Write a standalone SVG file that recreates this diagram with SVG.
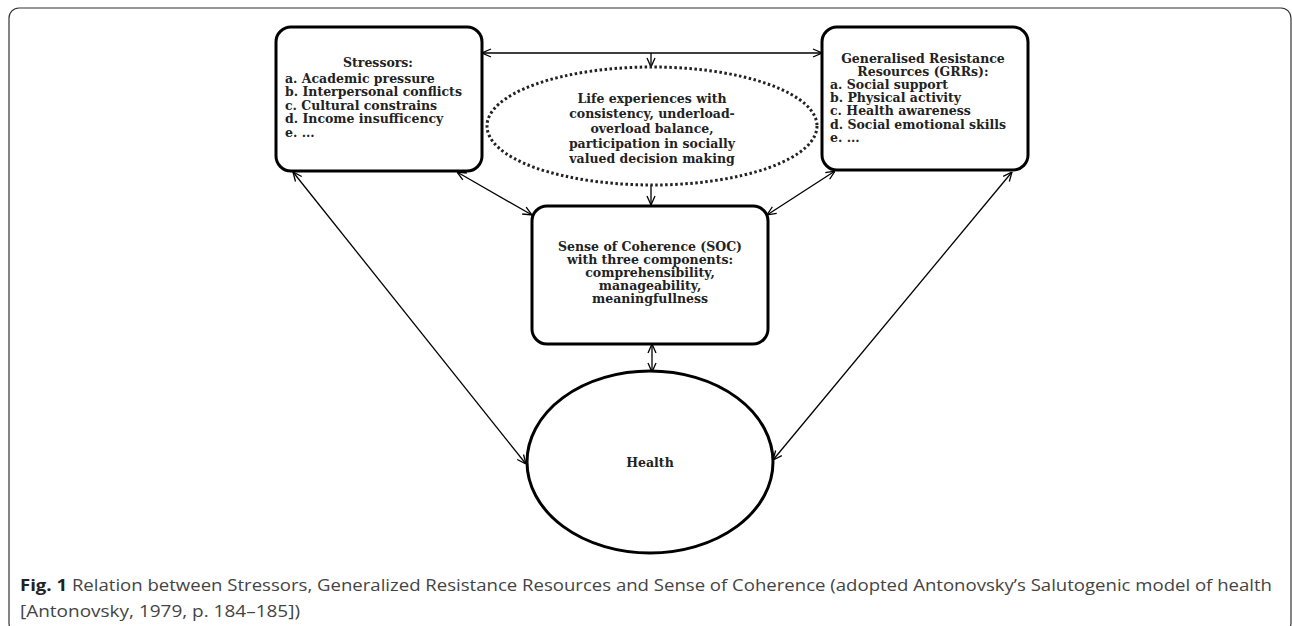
<svg xmlns="http://www.w3.org/2000/svg" width="1292" height="626" viewBox="0 0 1292 626">
<style>
.box{fill:#fff;stroke:#000;stroke-width:3}
.t{font-family:"DejaVu Serif","Liberation Serif",serif;font-weight:bold;font-size:12.5px;fill:#222}
.c{text-anchor:middle}
.con{stroke:#000;stroke-width:1.3;fill:none}
.cap{font-family:"Open Sans","Liberation Sans",sans-serif;font-size:16px;fill:#444}
</style>
<defs>
<marker id="ah" viewBox="0 0 10 10" refX="10" refY="5" markerWidth="10" markerHeight="10" markerUnits="userSpaceOnUse" orient="auto-start-reverse">
<path d="M1,1 L10,5 L1,9" fill="none" stroke="#000" stroke-width="1.3"/>
</marker>
</defs>
<rect x="9" y="8" width="1282" height="625" rx="10" fill="none" stroke="#333" stroke-width="1.2"/>
<g id="connectors">
<line class="con" x1="482" y1="53" x2="822" y2="53" marker-start="url(#ah)" marker-end="url(#ah)"/>
<line class="con" x1="651" y1="53" x2="651" y2="67" marker-end="url(#ah)"/>
<line class="con" x1="651" y1="185" x2="651" y2="205" marker-end="url(#ah)"/>
<line class="con" x1="652" y1="344" x2="652" y2="372" marker-start="url(#ah)" marker-end="url(#ah)"/>
<line class="con" x1="293" y1="172" x2="526" y2="464" marker-start="url(#ah)" marker-end="url(#ah)"/>
<line class="con" x1="457" y1="172" x2="532" y2="215" marker-start="url(#ah)" marker-end="url(#ah)"/>
<line class="con" x1="835" y1="171" x2="767" y2="215" marker-start="url(#ah)" marker-end="url(#ah)"/>
<line class="con" x1="1012" y1="172" x2="773" y2="460" marker-start="url(#ah)" marker-end="url(#ah)"/>
</g>
<g id="stressors">
<rect class="box" x="276" y="27" width="206" height="144" rx="15"/>
<text class="t c" x="378" y="67">Stressors:</text>
<text class="t" x="285" y="83">a. Academic pressure</text>
<text class="t" x="285" y="96">b. Interpersonal conflicts</text>
<text class="t" x="285" y="110">c. Cultural constrains</text>
<text class="t" x="285" y="123">d. Income insufficency</text>
<text class="t" x="285" y="137">e. ...</text>
</g>
<g id="grrs">
<rect class="box" x="822" y="27" width="206" height="143" rx="15"/>
<text class="t c" x="923" y="63">Generalised Resistance</text>
<text class="t c" x="923" y="76">Resources (GRRs):</text>
<text class="t" x="830" y="89">a. Social support</text>
<text class="t" x="830" y="102">b. Physical activity</text>
<text class="t" x="830" y="115">c. Health awareness</text>
<text class="t" x="830" y="129">d. Social emotional skills</text>
<text class="t" x="830" y="142">e. ...</text>
</g>
<g id="life">
<ellipse cx="652" cy="126" rx="165" ry="59" fill="#fff" stroke="#222" stroke-width="3" stroke-dasharray="2.5 2.5"/>
<text class="t c" x="652" y="103">Life experiences with</text>
<text class="t c" x="652" y="118">consistency, underload-</text>
<text class="t c" x="652" y="133">overload balance,</text>
<text class="t c" x="652" y="148">participation in socially</text>
<text class="t c" x="652" y="163">valued decision making</text>
</g>
<g id="soc">
<rect class="box" x="532" y="206" width="236" height="138" rx="15"/>
<text class="t c" x="650" y="251">Sense of Coherence (SOC)</text>
<text class="t c" x="650" y="264">with three components:</text>
<text class="t c" x="650" y="277">comprehensibility,</text>
<text class="t c" x="650" y="290">manageability,</text>
<text class="t c" x="650" y="303">meaningfullness</text>
</g>
<g id="health">
<ellipse cx="650" cy="462" rx="123" ry="91" fill="#fff" stroke="#000" stroke-width="3"/>
<text class="t c" x="650" y="467">Health</text>
</g>
<g id="caption">
<text class="cap" x="20" y="591" textLength="1252" lengthAdjust="spacingAndGlyphs"><tspan font-weight="bold" fill="#222">Fig. 1</tspan> Relation between Stressors, Generalized Resistance Resources and Sense of Coherence (adopted Antonovsky’s Salutogenic model of health</text>
<text class="cap" x="20" y="617" textLength="280" lengthAdjust="spacingAndGlyphs">[Antonovsky, 1979, p. 184–185])</text>
</g>
</svg>
